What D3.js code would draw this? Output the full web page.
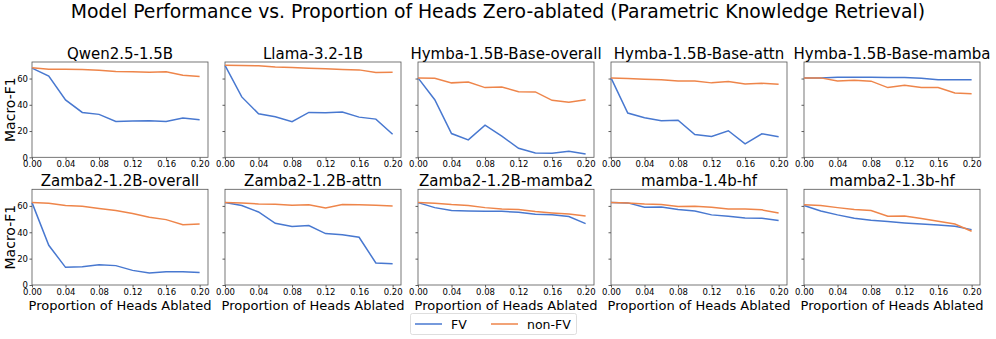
<!DOCTYPE html>
<html>
<head>
<meta charset="utf-8">
<script src="https://cdn.jsdelivr.net/npm/d3@7"></script>
<style>
  body { margin: 0; background: #fff; }
  text { font-family: "DejaVu Sans", sans-serif; fill: #000; }
</style>
</head>
<body>
<div id="my_dataviz"></div>
<script>
// proportion of heads ablated (x values) and tick labels
const props = [0, 0.02, 0.04, 0.06, 0.08, 0.10, 0.12, 0.14, 0.16, 0.18, 0.20];
const xTicks = [0, 0.04, 0.08, 0.12, 0.16, 0.20];
const yTicks = [0, 20, 40, 60];

const modelNames = ["Qwen2.5-1.5B", "Llama-3.2-1B", "Hymba-1.5B-Base-overall", "Hymba-1.5B-Base-attn", "Hymba-1.5B-Base-mamba",
    "Zamba2-1.2B-overall", "Zamba2-1.2B-attn", "Zamba2-1.2B-mamba2", "mamba-1.4b-hf", "mamba2-1.3b-hf"];

// FV heads ablated
const fvQwen = [67.9, 61.8, 43.7, 34.2, 32.7, 27.3, 27.6, 27.8, 27.3, 29.9, 28.6];
const fvLlama = [70.0, 46.0, 33.2, 30.9, 27.1, 34.2, 34.0, 34.5, 30.6, 29.1, 17.6];
const fvHymbaAll = [60.5, 43.9, 18.1, 13.3, 24.5, 16.1, 6.9, 3.3, 3.1, 4.6, 2.6];
const fvHymbaAttn = [60.5, 33.7, 30.1, 27.8, 28.3, 17.4, 15.8, 20.2, 10.2, 17.9, 15.6];
const fvHymbaMamba = [60.5, 60.5, 61.0, 61.0, 61.0, 60.8, 60.8, 60.3, 59.0, 59.0, 59.0];
const fvZambaAll = [62.5, 30.1, 13.4, 13.9, 15.4, 14.7, 11.1, 9.1, 10.1, 10.1, 9.4];
const fvZambaAttn = [62.5, 60.3, 55.4, 46.8, 44.3, 45.1, 39.0, 38.2, 36.2, 16.7, 16.2];
const fvZambaMamba = [62.5, 58.7, 56.5, 56.2, 55.9, 55.9, 55.2, 53.7, 53.2, 51.9, 46.6];
const fvMamba = [62.5, 62.3, 59.0, 59.2, 57.2, 56.2, 53.2, 52.2, 50.9, 50.6, 48.9];
const fvMamba2 = [60.3, 56.2, 53.2, 50.6, 49.1, 48.1, 47.1, 46.3, 45.6, 44.6, 42.0];

// non-FV heads ablated
const nonQwen = [68.2, 67.1, 67.0, 66.9, 66.4, 65.4, 65.1, 64.8, 65.1, 62.5, 61.5];
const nonLlama = [70.2, 70.0, 69.7, 68.7, 68.4, 67.9, 67.4, 66.9, 66.6, 64.6, 64.8];
const nonHymbaAll = [60.5, 60.2, 56.7, 57.4, 53.1, 53.6, 50.0, 49.8, 43.4, 41.9, 43.9];
const nonHymbaAttn = [60.5, 60.0, 59.5, 59.0, 58.2, 58.2, 56.7, 57.7, 55.9, 56.4, 55.7];
const nonHymbaMamba = [60.5, 60.5, 58.2, 58.7, 58.0, 53.1, 54.9, 53.1, 53.1, 49.0, 48.5];
const nonZambaAll = [62.5, 62.0, 60.3, 59.7, 58.0, 56.5, 54.2, 51.4, 49.6, 45.8, 46.3];
const nonZambaAttn = [62.5, 62.3, 61.5, 61.3, 60.5, 60.8, 58.5, 61.0, 60.8, 60.5, 60.0];
const nonZambaMamba = [62.5, 62.0, 61.0, 60.3, 58.7, 57.7, 57.2, 55.7, 54.7, 53.9, 52.4];
const nonMamba = [62.5, 62.3, 61.5, 61.0, 59.5, 59.7, 59.0, 57.7, 57.7, 57.0, 54.7];
const nonMamba2 = [60.8, 60.3, 58.7, 57.2, 56.5, 52.2, 52.4, 50.4, 48.4, 46.3, 40.8];

const fvSeries = [fvQwen, fvLlama, fvHymbaAll, fvHymbaAttn, fvHymbaMamba, fvZambaAll, fvZambaAttn, fvZambaMamba, fvMamba, fvMamba2];
const nonSeries = [nonQwen, nonLlama, nonHymbaAll, nonHymbaAttn, nonHymbaMamba, nonZambaAll, nonZambaAttn, nonZambaMamba, nonMamba, nonMamba2];

const fullW = 996, fullH = 339;
const fvColor = "#4878d0", nonColor = "#ee854a";

const svg = d3.select("#my_dataviz")
    .append("svg")
    .attr("width", fullW)
    .attr("height", fullH);

// main title
svg.append("text")
    .attr("x", fullW / 2)
    .attr("y", 18)
    .attr("text-anchor", "middle")
    .style("font-size", "18.8px")
    .text("Model Performance vs. Proportion of Heads Zero-ablated (Parametric Knowledge Retrieval)");

// panel layout
const panelW = 176, step = 193, left0 = 32;
const rows = [{top: 62, bottom: 157.3}, {top: 189.3, bottom: 285}];

modelNames.forEach((name, i) => {
    const r = Math.floor(i / 5), c = i % 5;
    const x0 = left0 + c * step;
    const row = rows[r];

    const x = d3.scaleLinear().domain([0, 0.21]).range([x0, x0 + panelW]);
    const y = d3.scaleLinear().domain([0, 72.6]).range([row.bottom, row.top]);

    const g = svg.append("g");

    // x axis
    const xAxis = g.append("g")
        .attr("transform", `translate(0,${row.bottom})`)
        .call(d3.axisBottom(x).tickValues(xTicks).tickFormat(d3.format(".2f")).tickSize(2.5).tickPadding(1.5));
    // y axis
    const yAxis = g.append("g")
        .attr("transform", `translate(${x0},0)`)
        .call(d3.axisLeft(y).tickValues(yTicks).tickSize(2.5).tickPadding(1.5)
            .tickFormat(c === 0 ? d3.format("d") : () => ""));
    [xAxis, yAxis].forEach(a => {
        a.select(".domain").remove();
        a.selectAll("line").attr("stroke", "#333").attr("stroke-width", 0.8);
        a.selectAll("text").style("font-size", "8.5px").style("font-family", "DejaVu Sans").attr("fill", "#000");
    });

    // frame
    g.append("rect")
        .attr("x", x0)
        .attr("y", row.top)
        .attr("width", panelW)
        .attr("height", row.bottom - row.top)
        .attr("fill", "none")
        .attr("stroke", "#555")
        .attr("stroke-width", 0.8);

    const line = d3.line()
        .x((d, k) => x(props[k]))
        .y(d => y(d));

    g.append("path")
        .datum(fvSeries[i])
        .attr("d", line)
        .attr("fill", "none")
        .attr("stroke", fvColor)
        .attr("stroke-width", 1.5);

    g.append("path")
        .datum(nonSeries[i])
        .attr("d", line)
        .attr("fill", "none")
        .attr("stroke", nonColor)
        .attr("stroke-width", 1.5);

    // subplot title
    g.append("text")
        .attr("x", x0 + panelW / 2)
        .attr("y", row.top - 3)
        .attr("text-anchor", "middle")
        .style("font-size", "15px")
        .text(name);

    // y label on first column
    if (c === 0) {
        g.append("text")
            .attr("transform", `translate(15,${(row.top + row.bottom) / 2}) rotate(-90)`)
            .attr("text-anchor", "middle")
            .style("font-size", "14px")
            .text("Macro-F1");
    }

    // x label on bottom row
    if (r === 1) {
        g.append("text")
            .attr("x", x0 + panelW / 2)
            .attr("y", 309.5)
            .attr("text-anchor", "middle")
            .style("font-size", "13px")
            .text("Proportion of Heads Ablated");
    }
});

// legend
const legend = svg.append("g");
legend.append("rect")
    .attr("x", 410.5)
    .attr("y", 313.5)
    .attr("width", 166)
    .attr("height", 21)
    .attr("rx", 2)
    .attr("fill", "#fff")
    .attr("stroke", "#d5d5d5")
    .attr("stroke-width", 0.8);

const legendItems = [{label: "FV", color: fvColor, x: 415}, {label: "non-FV", color: nonColor, x: 491}];
legendItems.forEach(d => {
    legend.append("line")
        .attr("x1", d.x)
        .attr("x2", d.x + 27)
        .attr("y1", 324)
        .attr("y2", 324)
        .attr("stroke", d.color)
        .attr("stroke-width", 1.5);
    legend.append("text")
        .attr("x", d.x + 36)
        .attr("y", 328.5)
        .style("font-size", "12.5px")
        .text(d.label);
});
</script>
</body>
</html>
